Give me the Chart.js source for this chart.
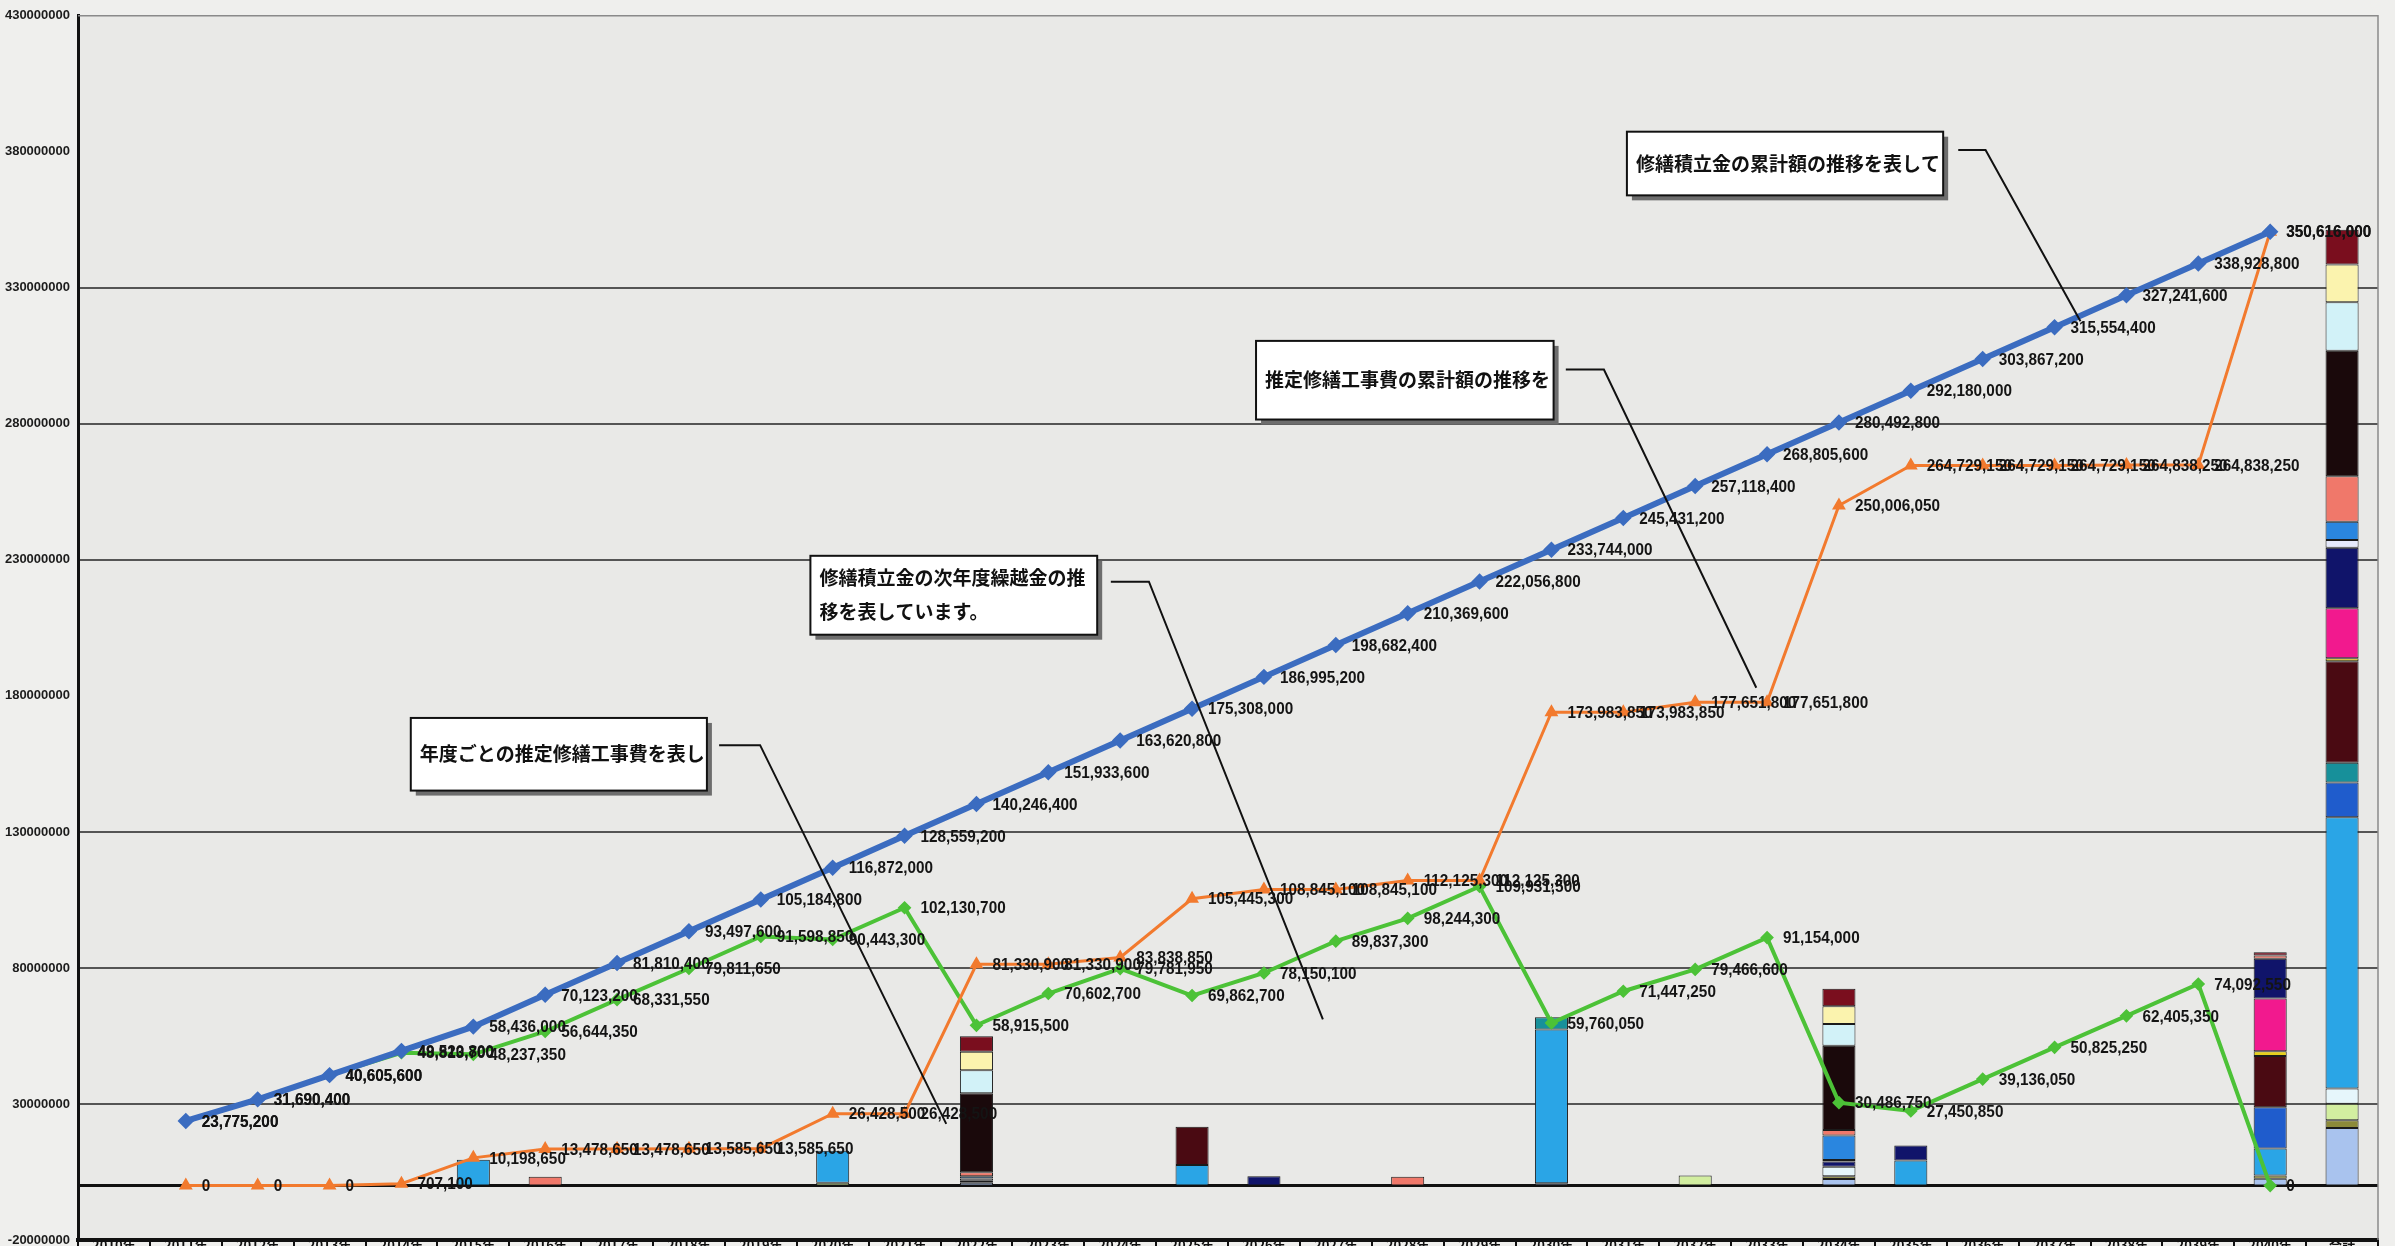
<!DOCTYPE html>
<html lang="ja">
<head>
<meta charset="utf-8">
<title>修繕積立金と推定修繕工事費の推移</title>
<script src="https://cdn.jsdelivr.net/npm/chart.js@4.4.1/dist/chart.umd.min.js"></script>
<style>
  html, body { margin: 0; padding: 0; background: #efefed; overflow: hidden; }
  #wrap { width: 2395px; height: 1272px; }
</style>
</head>
<body>
<div id="wrap"><canvas id="grafico" width="2395" height="1272"></canvas></div>
<script>
// Categorias (anos) - a última coluna é o total
const anos = ['2010年', '2011年', '2012年', '2013年', '2014年', '2015年', '2016年', '2017年', '2018年', '2019年',
  '2020年', '2021年', '2022年', '2023年', '2024年', '2025年', '2026年', '2027年', '2028年', '2029年',
  '2030年', '2031年', '2032年', '2033年', '2034年', '2035年', '2036年', '2037年', '2038年', '2039年',
  '2040年', '合計'];

// Marcas do eixo Y
const yMin = -20000000;
const yMax = 430000000;
const yPasso = 50000000;

// 修繕積立金の累計額 (azul)
const reservaAcumulada = [null, 23775200, 31690400, 40605600, 49520800, 58436000, 70123200, 81810400, 93497600,
  105184800, 116872000, 128559200, 140246400, 151933600, 163620800, 175308000, 186995200, 198682400,
  210369600, 222056800, 233744000, 245431200, 257118400, 268805600, 280492800, 292180000, 303867200,
  315554400, 327241600, 338928800, 350616000, null];

// 推定修繕工事費の累計額 (laranja)
const obraAcumulada = [null, 0, 0, 0, 707100, 10198650, 13478650, 13478650, 13585650, 13585650, 26428500,
  26428500, 81330900, 81330900, 83838850, 105445300, 108845100, 108845100, 112125300, 112125300,
  173983850, 173983850, 177651800, 177651800, 250006050, 264729150, 264729150, 264729150, 264838250,
  264838250, 350616000, null];

// 修繕積立金の次年度繰越金 (verde)
const saldoProximoAno = [null, 23775200, 31690400, 40605600, 48813700, 48237350, 56644350, 68331550, 79811650,
  91598850, 90443300, 102130700, 58915500, 70602700, 79781950, 69862700, 78150100, 89837300, 98244300,
  109931500, 59760050, 71447250, 79466600, 91154000, 30486750, 27450850, 39136050, 50825250, 62405350,
  74092550, 0, null];

// Colunas com obra (índice da categoria)
const colunasObra = [5, 6, 10, 12, 15, 16, 18, 20, 22, 24, 25, 30, 31];

// Itens de obra por coluna (mesma ordem de colunasObra), de baixo para cima
const itemLavanda   = [0, 0, 0, 1000000, 0, 0, 0, 860000, 0, 2400000, 0, 2500000, 21200000];
const itemOliva     = [0, 0, 0, 0, 0, 0, 0, 0, 0, 1000000, 0, 1200000, 2800000];
const itemVerdeClaro = [0, 0, 1000000, 0, 0, 0, 0, 0, 3667950, 0, 0, 0, 6100000];
const itemCianoPalido = [0, 0, 0, 0, 0, 0, 0, 0, 0, 3500000, 0, 0, 5600000];
const itemCeleste   = [9491550, 0, 11842850, 0, 7600000, 0, 0, 56500000, 0, 0, 9223100, 9900000, 99700000];
const itemAzul      = [0, 0, 0, 0, 0, 0, 0, 0, 0, 0, 0, 15200000, 12800000];
const itemTeal      = [0, 0, 0, 0, 0, 0, 0, 4500000, 0, 0, 0, 0, 7200000];
const itemVinho     = [0, 0, 0, 0, 14000000, 0, 0, 0, 0, 0, 0, 18800000, 37300000];
const itemAmarelo   = [0, 0, 0, 0, 0, 0, 0, 0, 0, 0, 0, 1800000, 1100000];
const itemMagenta   = [0, 0, 0, 0, 0, 0, 0, 0, 0, 0, 0, 19400000, 18400000];
const itemMarinho   = [0, 0, 0, 800000, 0, 3399800, 0, 0, 0, 2000000, 5500000, 14600000, 22300000];
const itemLilas     = [0, 0, 0, 800000, 0, 0, 0, 0, 0, 500000, 0, 0, 2800000];
const itemAzulClaro = [0, 0, 0, 800000, 0, 0, 0, 0, 0, 9000000, 0, 0, 6700000];
const itemSalmao    = [0, 3280000, 0, 1500000, 0, 0, 3280200, 0, 0, 2000000, 0, 1200000, 16700000];
const itemPreto     = [0, 0, 0, 29000000, 0, 0, 0, 0, 0, 31000000, 0, 0, 46200000];
const itemCiano     = [0, 0, 0, 8500000, 0, 0, 0, 0, 0, 8000000, 0, 0, 17800000];
const itemCreme     = [0, 0, 0, 6800000, 0, 0, 0, 0, 0, 6500000, 0, 0, 13900000];
const itemBordo     = [0, 0, 0, 5700000, 0, 0, 0, 0, 0, 6500000, 0, 1200000, 12800000];

const itensObra = [
  ['修繕項目1', itemLavanda, '#a9c3ee'],
  ['修繕項目2', itemOliva, '#8c8a3a'],
  ['修繕項目3', itemVerdeClaro, '#d2eea0'],
  ['修繕項目4', itemCianoPalido, '#e6f6fb'],
  ['修繕項目5', itemCeleste, '#2aa5e6'],
  ['修繕項目6', itemAzul, '#1f5ccc'],
  ['修繕項目7', itemTeal, '#17909a'],
  ['修繕項目8', itemVinho, '#4a0a12'],
  ['修繕項目9', itemAmarelo, '#e6cf1c'],
  ['修繕項目10', itemMagenta, '#f2198e'],
  ['修繕項目11', itemMarinho, '#10146a'],
  ['修繕項目12', itemLilas, '#e4e8fb'],
  ['修繕項目13', itemAzulClaro, '#2a86df'],
  ['修繕項目14', itemSalmao, '#f0786a'],
  ['修繕項目15', itemPreto, '#1a090b'],
  ['修繕項目16', itemCiano, '#d2f2f8'],
  ['修繕項目17', itemCreme, '#fbf3ae'],
  ['修繕項目18', itemBordo, '#7a0e1e']
];

// Caixas de comentário: posição em (índice da categoria, valor)
const notas = [
  { linhas: ['修繕積立金の累計額の推移を表して'], caixa: [21.05, 387.4e6, 25.45, 364.0e6],
    guia: [[25.66, 380.7e6], [26.04, 380.7e6], [27.36, 317.7e6]] },
  { linhas: ['推定修繕工事費の累計額の推移を'], caixa: [15.89, 310.5e6, 20.03, 281.6e6],
    guia: [[20.20, 300.0e6], [20.73, 300.0e6], [22.85, 183.0e6]] },
  { linhas: ['修繕積立金の次年度繰越金の推', '移を表しています。'], caixa: [9.69, 231.5e6, 13.68, 202.5e6],
    guia: [[13.87, 222.0e6], [14.40, 222.0e6], [16.82, 61.1e6]] },
  { linhas: ['年度ごとの推定修繕工事費を表し'], caixa: [4.13, 171.9e6, 8.25, 145.2e6],
    guia: [[8.42, 161.9e6], [8.99, 161.9e6], [11.58, 22.7e6]] }
];

// monta a série de uma coluna de obra com 32 posições
function serieObra(valores) {
  const serie = anos.map(() => null);
  colunasObra.forEach((col, i) => { if (valores[i]) serie[col] = valores[i]; });
  return serie;
}

const datasetsBarras = itensObra.map(([nome, valores, cor]) => ({
  type: 'bar',
  label: nome,
  data: serieObra(valores),
  backgroundColor: cor,
  borderColor: '#1b1b1b',
  borderWidth: 1,
  borderSkipped: false,
  stack: 'obra',
  order: 2,
  barPercentage: 0.46,
  categoryPercentage: 1
}));

const datasetsLinhas = [
  { type: 'line', label: '修繕積立金の累計額', data: reservaAcumulada, borderColor: '#3b6cc0',
    backgroundColor: '#3b6cc0', borderWidth: 6, pointStyle: 'rectRot', pointRadius: 4, stack: 'l1', order: 0 },
  { type: 'line', label: '推定修繕工事費の累計額', data: obraAcumulada, borderColor: '#f27a2e',
    backgroundColor: '#f27a2e', borderWidth: 3, pointStyle: 'triangle', pointRadius: 5, stack: 'l2', order: 0 },
  { type: 'line', label: '修繕積立金の次年度繰越金', data: saldoProximoAno, borderColor: '#4cc237',
    backgroundColor: '#4cc237', borderWidth: 4, pointStyle: 'rectRot', pointRadius: 4, stack: 'l3', order: 0 }
];

// Fundo, linha do zero e borda da área
const fundoPlugin = {
  id: 'fundo',
  beforeDraw(chart) {
    const { ctx, chartArea: a } = chart;
    ctx.save();
    ctx.fillStyle = '#e9e9e7';
    ctx.fillRect(a.left, a.top, a.right - a.left, a.bottom - a.top);
    ctx.restore();
  },
  beforeDatasetsDraw(chart) {
    const { ctx, chartArea: a, scales } = chart;
    const y0 = scales.y.getPixelForValue(0);
    ctx.save();
    ctx.strokeStyle = '#111';
    ctx.lineWidth = 3;
    ctx.beginPath();
    ctx.moveTo(a.left, y0);
    ctx.lineTo(a.right, y0);
    ctx.stroke();
    ctx.strokeStyle = '#8a8a8a';
    ctx.lineWidth = 1.5;
    ctx.beginPath();
    ctx.moveTo(a.left, a.top);
    ctx.lineTo(a.right, a.top);
    ctx.lineTo(a.right, a.bottom);
    ctx.stroke();
    ctx.restore();
  }
};

// Rótulos de valor ao lado de cada ponto
const rotulosPlugin = {
  id: 'rotulos',
  afterDatasetsDraw(chart) {
    const { ctx } = chart;
    ctx.save();
    ctx.font = 'bold 17px "Liberation Sans", Arial, sans-serif';
    ctx.fillStyle = '#141414';
    ctx.textBaseline = 'middle';
    chart.data.datasets.forEach((ds, di) => {
      if (ds.type !== 'line') return;
      const meta = chart.getDatasetMeta(di);
      meta.data.forEach((pt, i) => {
        const v = ds.data[i];
        if (v === null || v === undefined) return;
        const txt = v.toLocaleString('en-US');
        ctx.save();
        ctx.translate(pt.x + 16, pt.y + 1);
        ctx.scale(0.9, 1);
        ctx.fillText(txt, 0, 0);
        ctx.restore();
      });
    });
    ctx.restore();
  }
};

// Caixas de texto com linha guia
const notasPlugin = {
  id: 'notas',
  afterDraw(chart) {
    const { ctx, scales } = chart;
    const px = v => scales.x.getPixelForValue(v);
    const py = v => scales.y.getPixelForValue(v);
    ctx.save();
    notas.forEach(n => {
      const [x1, y1, x2, y2] = n.caixa;
      const l = px(x1), t = py(y1), r = px(x2), b = py(y2);
      ctx.fillStyle = '#6d6d6d';
      ctx.fillRect(l + 5, t + 5, r - l, b - t);
      ctx.fillStyle = '#ffffff';
      ctx.fillRect(l, t, r - l, b - t);
      ctx.strokeStyle = '#111';
      ctx.lineWidth = 2;
      ctx.strokeRect(l, t, r - l, b - t);
      ctx.fillStyle = '#111';
      ctx.font = 'bold 19px "Noto Sans CJK JP", sans-serif';
      ctx.textBaseline = 'middle';
      ctx.textAlign = 'left';
      const h = 34;
      const ini = (t + b) / 2 - (n.linhas.length - 1) * h / 2;
      n.linhas.forEach((ln, k) => ctx.fillText(ln, l + 9, ini + k * h));
      ctx.strokeStyle = '#111';
      ctx.lineWidth = 2;
      ctx.beginPath();
      n.guia.forEach(([gx, gy], k) => {
        if (k === 0) ctx.moveTo(px(gx), py(gy));
        else ctx.lineTo(px(gx), py(gy));
      });
      ctx.stroke();
    });
    ctx.restore();
  }
};

const ctxGrafico = document.getElementById('grafico').getContext('2d');
new Chart(ctxGrafico, {
  data: {
    labels: anos,
    datasets: [...datasetsLinhas, ...datasetsBarras]
  },
  options: {
    responsive: false,
    animation: false,
    devicePixelRatio: 1,
    layout: { padding: { top: 5, right: 17, left: 0, bottom: 0 } },
    plugins: {
      legend: { display: false },
      tooltip: { enabled: false }
    },
    scales: {
      x: {
        stacked: true,
        offset: true,
        grid: {
          offset: true,
          drawOnChartArea: false,
          drawTicks: true,
          tickLength: 30,
          color: '#111',
          lineWidth: 2
        },
        border: { color: '#111', width: 4 },
        ticks: {
          autoSkip: false,
          maxRotation: 0,
          padding: -33,
          color: '#111',
          font: { family: '"Noto Sans CJK JP", "Liberation Sans", sans-serif', size: 13, weight: 'bold' }
        },
        afterFit: scale => { scale.height = 32; }
      },
      y: {
        stacked: true,
        min: yMin,
        max: yMax,
        ticks: {
          stepSize: yPasso,
          padding: 8,
          color: '#1c1c1c',
          font: { family: '"Liberation Sans", Arial, sans-serif', size: 13, weight: 'bold' },
          callback: v => String(v)
        },
        grid: {
          drawTicks: false,
          lineWidth: 2,
          color: c => {
            const v = c.tick.value;
            if (v === 180000000 || v === 380000000 || v === yMin || v === yMax) return 'rgba(0,0,0,0)';
            return '#555555';
          }
        },
        border: { color: '#111', width: 3 },
        afterFit: scale => { scale.width = 78; }
      }
    }
  },
  plugins: [fundoPlugin, rotulosPlugin, notasPlugin]
});
</script>
</body>
</html>
